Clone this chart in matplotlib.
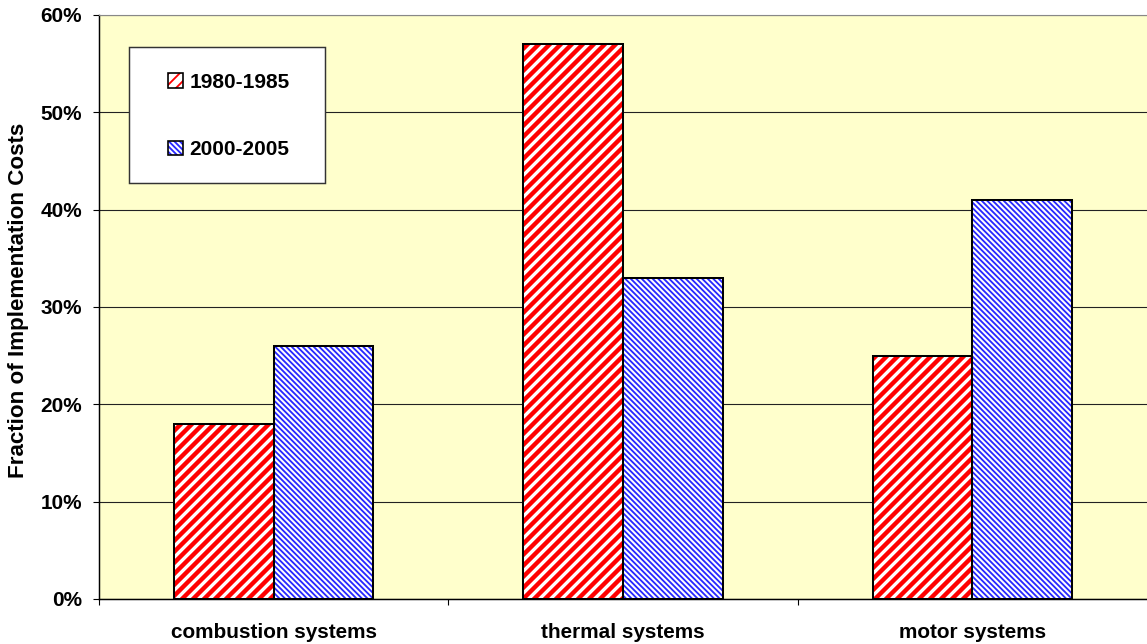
import matplotlib
matplotlib.use("Agg")
import matplotlib.pyplot as plt
import numpy as np
from matplotlib.patches import Patch, Rectangle
from matplotlib.legend_handler import HandlerTuple

# fraction of implementation costs by system type
categories = ["combustion systems", "thermal systems", "motor systems"]
period_1980 = [18, 57, 25]
period_2000 = [26, 33, 41]
series_labels = ["1980-1985", "2000-2005"]

plt.rcParams['font.family'] = ['Liberation Sans', 'DejaVu Sans']
plt.rcParams['font.weight'] = 'bold'

DPI = 132
fig = plt.figure(figsize=(1147 / DPI, 644 / DPI), dpi=DPI)
fig.patch.set_facecolor('white')
ax = fig.add_axes([99 / 1147, 1 - 599 / 644, 1 - 99 / 1147, (599 - 15) / 644])
ax.set_facecolor('#FFFFCC')

x = np.arange(len(categories))
w = 0.285
RED_HATCH = '////'
BLUE_HATCH = '\\' * 8

# hatched fills first, black outlines on top
with plt.rc_context({'hatch.linewidth': 2.4}):
    red = ax.bar(x - w / 2, period_1980, w, color='white', edgecolor='#FF0000',
                 hatch=RED_HATCH, linewidth=0, zorder=3)
with plt.rc_context({'hatch.linewidth': 1.0}):
    blue = ax.bar(x + w / 2, period_2000, w, color='white', edgecolor='#2828FF',
                  hatch=BLUE_HATCH, linewidth=0, zorder=3)
ax.bar(x - w / 2, period_1980, w, fill=False, edgecolor='black', linewidth=1.1, zorder=4)
ax.bar(x + w / 2, period_2000, w, fill=False, edgecolor='black', linewidth=1.1, zorder=4)

ax.set_xlim(-0.5, 2.5)
ax.set_ylim(0, 60)
ax.set_yticks(np.arange(0, 61, 10))
ax.set_yticklabels([f"{v}%" for v in range(0, 61, 10)], fontsize=11.3, fontweight='bold')
ax.yaxis.grid(True, color='#222222', linewidth=0.6, zorder=1)
ax.set_axisbelow(True)
ax.tick_params(axis='y', length=3.3, width=0.6, pad=6)

# category boundaries as ticks, names centred under each group
ax.set_xticks([-0.5, 0.5, 1.5])
ax.set_xticklabels([])
ax.set_xticks(x, minor=True)
ax.set_xticklabels(categories, minor=True, fontsize=11.3, fontweight='bold')
ax.tick_params(axis='x', which='major', length=3.3, width=0.6)
ax.tick_params(axis='x', which='minor', length=0, pad=13)

ax.set_ylabel("Fraction of Implementation Costs", fontsize=12.2, fontweight='bold')
ax.yaxis.label.set_va('center')
ax.yaxis.set_label_coords(-0.077, 0.512)

for s in ['left', 'bottom']:
    ax.spines[s].set_linewidth(0.8)
    ax.spines[s].set_color('black')
ax.spines['top'].set_color('#888888')
ax.spines['top'].set_linewidth(0.6)
ax.spines['right'].set_visible(False)

# legend box
box = Rectangle((129 / 1147, 1 - 183 / 644), 196 / 1147, 136 / 644,
                transform=fig.transFigure, facecolor='white', edgecolor='#333333',
                linewidth=0.8, zorder=5)
fig.patches.append(box)

with plt.rc_context({'hatch.linewidth': 2.4}):
    h1 = Patch(facecolor='white', edgecolor='#FF0000', hatch=RED_HATCH, linewidth=0)
with plt.rc_context({'hatch.linewidth': 1.0}):
    h2 = Patch(facecolor='white', edgecolor='#2828FF', hatch=BLUE_HATCH, linewidth=0)
o1 = Patch(fill=False, edgecolor='black', linewidth=0.9)
o2 = Patch(fill=False, edgecolor='black', linewidth=0.9)
leg = fig.legend([(h1, o1), (h2, o2)], series_labels,
                 handler_map={tuple: HandlerTuple(ndivide=1)},
                 loc='center', bbox_to_anchor=(229 / 1147, 1 - 116 / 644),
                 frameon=False, prop={'size': 11.4, 'weight': 'bold'},
                 handlelength=0.7, handleheight=0.7, handletextpad=0.3,
                 labelspacing=2.32)
leg.set_zorder(6)

fig.savefig("out.png", dpi=DPI)
